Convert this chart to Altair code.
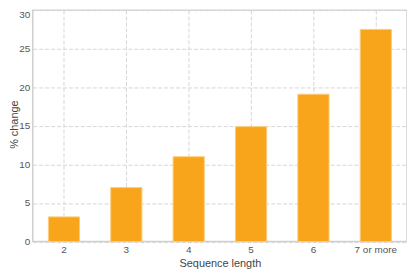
import altair as alt
import pandas as pd

categories = ["2", "3", "4", "5", "6", "7 or more"]
values = [3.2, 7.0, 11.0, 14.9, 19.1, 27.5]
y_ticks = [0, 5, 10, 15, 20, 25, 30]

df = pd.DataFrame({"seq": categories, "pct": values})

FONT = "Liberation Sans"

chart = alt.Chart(df).mark_bar(
    color="#F9A51C", stroke="#FCCB7C", strokeWidth=1
).encode(
    x=alt.X(
        "seq:N",
        sort=categories,
        scale=alt.Scale(paddingInner=0.5, paddingOuter=0.25),
        axis=alt.Axis(
            title="Sequence length", labelAngle=0, ticks=False, domain=False,
            grid=True, gridColor="#d6d6d6", gridDash=[4, 2], gridWidth=1,
            labelPadding=3.5, labelFontSize=10, labelColor="#555", labelFont=FONT,
            titleFontSize=11, titleColor="#444", titleFont=FONT, titleFontWeight="normal",
            titleY=16, titleBaseline="top",
        ),
    ),
    y=alt.Y(
        "pct:Q",
        scale=alt.Scale(domain=[0, 30], nice=False),
        axis=alt.Axis(
            title="% change", values=y_ticks, ticks=False, domain=False,
            grid=True, gridColor="#d6d6d6", gridDash=[4, 2], gridWidth=1,
            labelPadding=3, labelFontSize=10, labelColor="#555", labelFont=FONT,
            labelOffset={"condition": {"test": "datum.value == 30", "value": 4}, "value": 0},
            titleFontSize=11, titleColor="#444", titleFont=FONT, titleFontWeight="normal",
            titleX=-15.5, titleY=115, titleBaseline="alphabetic", titleAngle=-90,
            titleAlign="center",
        ),
    ),
).properties(
    width=377.5,
    height=233.5,
    autosize=alt.AutoSizeParams(type="none"),
    padding={"left": 25, "top": 1, "right": 0, "bottom": 27},
).configure_view(
    stroke="#d0d0d0", strokeWidth=1.5
)

chart.save("out.html", embed_options={"renderer": "svg", "actions": False})
